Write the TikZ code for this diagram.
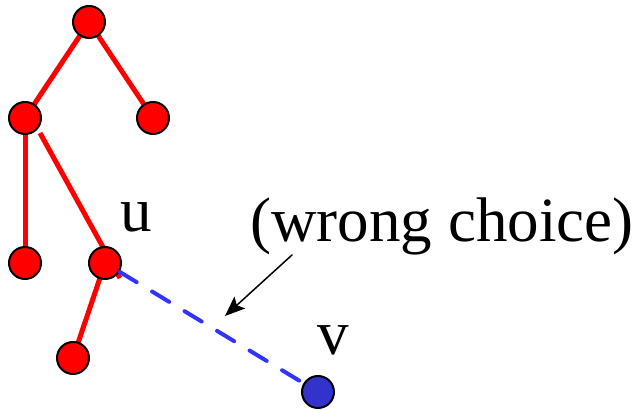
\documentclass[tikz,border=0pt]{standalone}
\usepackage{fontspec}
\setmainfont{Liberation Serif}
\usetikzlibrary{arrows.meta,backgrounds,calc}
\definecolor{dashblue}{RGB}{51,51,255}
\definecolor{vblue}{RGB}{51,51,204}
\tikzset{
  vert/.style={circle, draw=black, line width=1pt, fill=red, inner sep=0pt, minimum size=16pt},
  tedge/.style={red, line width=2.5pt},
  lbl/.style={font=\fontsize{31.5}{36}\selectfont, anchor=base, inner sep=0pt}
}
\begin{document}
\begin{tikzpicture}[x=0.5pt, y=-0.5pt, line join=round, line cap=round]
    \useasboundingbox (0,0) rectangle (638,410);
    % tree
    \node[vert] (r) at (89,22) {};
    \node[vert] (a) at (25,118) {};
    \node[vert] (b) at (153,118) {};
    \node[vert] (c) at (25,263) {};
    \node[vert] (u) at (105,263) {};
    \node[vert] (w) at (73,358) {};
    \node[vert, fill=vblue] (v) at (318,392) {};
    \coordinate (astart) at ($(a.center)+(15,15)$);
    \coordinate (uend) at ($(u.center)+(15,15)$);
    \begin{scope}[on background layer]
      \draw[tedge] (r.center) -- (a.center);
      \draw[tedge] (r.center) -- (b.center);
      \draw[tedge] (a.center) -- (c.center);
      \draw[tedge] (u.center) -- (w.center);
      \draw[tedge] (astart) -- (uend);
    \end{scope}
    \draw[dashblue, line width=2pt, dash pattern=on 10pt off 9pt] (u) -- (v);
    % labels
    \node[lbl] (ulbl) at (136,232) {u};
    \node[lbl] (vlbl) at (333,355) {v};
    \node[lbl] (note) at (442,242) {(wrong choice)};
    \coordinate (tail) at (292,255);
    \coordinate (tip) at (225,316);
    \draw[line width=0.75pt, -{Stealth[length=10pt, width=8pt, inset=2pt]}] (tail) -- (tip);
  \end{tikzpicture}
\end{document}
